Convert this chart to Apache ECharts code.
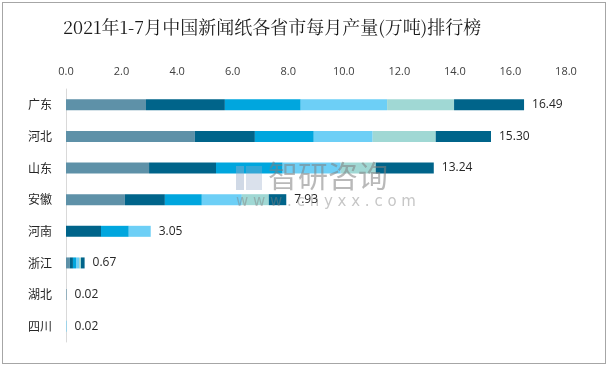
<!DOCTYPE html>
<html>
<head>
<meta charset="utf-8">
<script src="https://cdn.jsdelivr.net/npm/echarts@6/dist/echarts.min.js"></script>
<style>
html,body{margin:0;padding:0;background:#fff;}
#frame{position:absolute;left:2px;top:2px;width:604px;height:362px;border:1px solid #a6a6a6;box-sizing:border-box;}
#c{position:absolute;left:0;top:0;width:610px;height:370px;}
</style>
</head>
<body>
<div id="frame"></div>
<div id="c"></div>
<script>
var titleText = '2021年1-7月中国新闻纸各省市每月产量(万吨)排行榜';
var provinces = ['广东','河北','山东','安徽','河南','浙江','湖北','四川'];
var seriesNames = ['1-2月','3月','4月','5月','6月','7月'];
var m12 = [2.88, 4.64, 2.99, 2.12, 0, 0.14, 0.02, 0];
var m3  = [2.84, 2.16, 2.41, 1.44, 1.26, 0.11, 0, 0];
var m4  = [2.73, 2.12, 2.40, 1.33, 1.00, 0.11, 0, 0];
var m5  = [3.11, 2.12, 2.09, 1.44, 0.79, 0.11, 0, 0.02];
var m6  = [2.41, 2.27, 1.26, 0.97, 0, 0.07, 0, 0];
var m7  = [2.52, 1.99, 2.09, 0.63, 0, 0.13, 0, 0];
var totals = ['16.49','15.30','13.24','7.93','3.05','0.67','0.02','0.02'];
var xTicks = {min: 0, max: 18, interval: 2};
var colors = ['#5e91a8','#00648a','#00a6de','#6dcff6','#a0d8d4','#00648a'];

var chart = echarts.init(document.getElementById('c'), null, {renderer:'canvas'});
var monthData = [m12, m3, m4, m5, m6, m7];
var series = monthData.map(function(d, i){
  return {
    name: seriesNames[i], type: 'bar', stack: 'total', data: d,
    barWidth: 11, itemStyle: {color: colors[i]}, silent: true
  };
});
series.push({
  name: 'total', type: 'bar', stack: 'total',
  data: provinces.map(function(){ return 0; }),
  barWidth: 11, itemStyle: {color: 'transparent'},
  label: {show: true, position: 'right', distance: 8,
    formatter: function(p){ return totals[p.dataIndex]; },
    color: '#262626', fontSize: 12, fontFamily: 'Open Sans, sans-serif'}
});
chart.setOption({
  animation: false,
  backgroundColor: 'transparent',
  title: {text: titleText, left: 58, top: 13,
    textStyle: {fontSize: 18, fontWeight: 'normal', color: '#1a1a1a', fontFamily: '"Noto Serif CJK SC", "DejaVu Serif", serif'}},
  grid: {left: 66, right: 44, top: 89, bottom: 28},
  xAxis: {type: 'value', position: 'top', min: xTicks.min, max: xTicks.max, interval: xTicks.interval,
    axisLine: {show: false}, axisTick: {show: false}, splitLine: {show: false},
    axisLabel: {formatter: function(v){ return v.toFixed(1); }, color: '#404040', fontSize: 11, margin: 12, fontFamily: 'Open Sans, sans-serif'}},
  yAxis: {type: 'category', inverse: true, data: provinces,
    axisLine: {show: true, lineStyle: {color: '#d9d9d9', width: 1}}, axisTick: {show: false},
    axisLabel: {color: '#262626', fontSize: 12, margin: 14, fontFamily: '"Noto Sans CJK SC", sans-serif'}},
  graphic: [
    {type: 'rect', left: 236, top: 166, z: 100, silent: true, shape: {width: 8, height: 24}, style: {fill: 'rgba(150,170,200,0.45)'}},
    {type: 'rect', left: 246, top: 166, z: 100, silent: true, shape: {width: 16, height: 24}, style: {fill: 'rgba(150,170,200,0.35)'}},
    {type: 'text', left: 268, top: 161, z: 100, silent: true, style: {text: '智研咨询', font: '30px "Noto Sans CJK SC"', fill: 'rgba(128,128,128,0.55)'}},
    {type: 'text', left: 236, top: 195, z: 100, silent: true, style: {text: 'w w w . c h y x x . c o m', font: '15px "DejaVu Sans"', fill: 'rgba(128,128,128,0.45)'}}
  ],
  series: series
});
</script>
</body>
</html>
